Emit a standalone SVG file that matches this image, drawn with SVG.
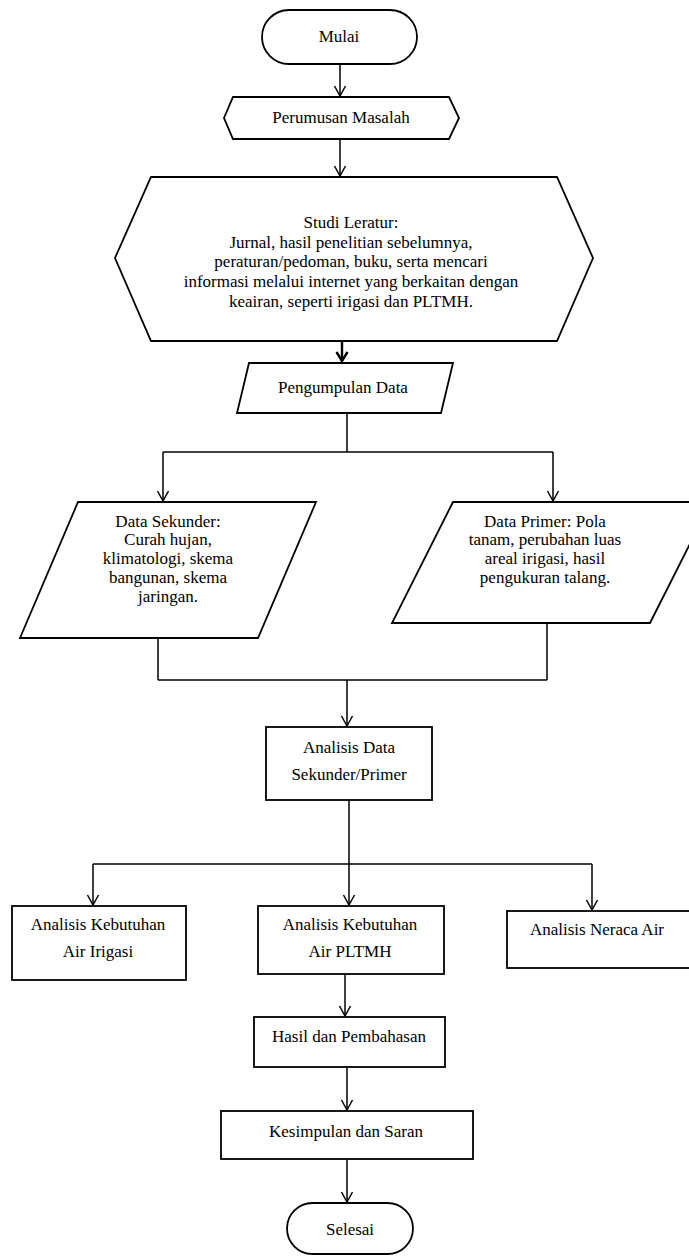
<svg xmlns="http://www.w3.org/2000/svg" width="689" height="1256" viewBox="0 0 689 1256">
<style>
.s{fill:#fff;stroke:#000;stroke-width:1.8}
.c{fill:none;stroke:#000;stroke-width:1.5}
.a{marker-end:url(#ah)}
.b{stroke-width:2.4;marker-end:url(#ahb)}
text{font-family:"Liberation Serif","Times New Roman",serif;font-size:17px;fill:#000;text-anchor:middle}
</style>
<defs>
<marker id="ah" markerUnits="userSpaceOnUse" markerWidth="14" markerHeight="14" viewBox="-12 -7 14 14" refX="0" refY="0" orient="auto">
<path d="M-10,-5.5 L0,0 L-10,5.5" fill="none" stroke="#000" stroke-width="1.5"/>
</marker>
<marker id="ahb" markerUnits="userSpaceOnUse" markerWidth="14" markerHeight="14" viewBox="-12 -7 14 14" refX="0" refY="0" orient="auto">
<path d="M-9,-5.5 L0,0 L-9,5.5" fill="none" stroke="#000" stroke-width="2.4"/>
</marker>
</defs>
<rect width="689" height="1256" fill="#fff"/>
<g id="connectors">
<line class="c a" x1="340" y1="64" x2="340" y2="96"/>
<line class="c a" x1="340" y1="139" x2="340" y2="176"/>
<line class="c b" x1="342" y1="341" x2="342" y2="361"/>
<polyline class="c" points="347,413 347,452"/>
<line class="c" x1="163" y1="452" x2="553" y2="452"/>
<line class="c a" x1="163" y1="452" x2="163" y2="501"/>
<line class="c a" x1="553" y1="452" x2="553" y2="501"/>
<line class="c" x1="158" y1="638" x2="158" y2="680"/>
<line class="c" x1="547" y1="623" x2="547" y2="680"/>
<line class="c" x1="158" y1="680" x2="547" y2="680"/>
<line class="c a" x1="347" y1="680" x2="347" y2="726"/>
<line class="c a" x1="349" y1="800" x2="349" y2="905"/>
<line class="c" x1="93" y1="864" x2="592" y2="864"/>
<line class="c a" x1="93" y1="864" x2="93" y2="905"/>
<line class="c a" x1="592" y1="864" x2="592" y2="910"/>
<line class="c a" x1="345" y1="974" x2="345" y2="1016"/>
<line class="c a" x1="347" y1="1067" x2="347" y2="1110"/>
<line class="c a" x1="347" y1="1159" x2="347" y2="1202"/>
</g>
<g id="mulai">
<rect class="s" x="262" y="10" width="155" height="54" rx="27"/>
<text x="339" y="42">Mulai</text>
</g>
<g id="perumusan">
<polygon class="s" points="233,97 449,97 459,118 449,139 233,139 224,118"/>
<text x="341" y="123">Perumusan Masalah</text>
</g>
<g id="studi">
<polygon class="s" points="151,177 557,177 593,258 557,341 151,341 115,258"/>
<text x="351" y="228">Studi Leratur:</text>
<text x="351" y="248">Jurnal, hasil penelitian sebelumnya,</text>
<text x="351" y="267">peraturan/pedoman, buku, serta mencari</text>
<text x="351" y="287">informasi melalui internet yang berkaitan dengan</text>
<text x="351" y="307">keairan, seperti irigasi dan PLTMH.</text>
</g>
<g id="pengumpulan">
<polygon class="s" points="249,363 453,363 441,413 237,413"/>
<text x="343" y="393">Pengumpulan Data</text>
</g>
<g id="sekunder">
<polygon class="s" points="78,502 316,502 258,638 20,638"/>
<text x="168" y="527">Data Sekunder:</text>
<text x="168" y="545">Curah hujan,</text>
<text x="168" y="564">klimatologi,  skema</text>
<text x="168" y="583">bangunan, skema</text>
<text x="168" y="602">jaringan.</text>
</g>
<g id="primer">
<polygon class="s" points="453,502 711,502 650,623 392,623"/>
<text x="545" y="527">Data Primer: Pola</text>
<text x="545" y="545">tanam, perubahan luas</text>
<text x="545" y="564">areal irigasi, hasil</text>
<text x="545" y="583">pengukuran talang.</text>
</g>
<g id="analisis-data">
<rect class="s" x="266" y="727" width="166" height="73"/>
<text x="349" y="753">Analisis Data</text>
<text x="349" y="780">Sekunder/Primer</text>
</g>
<g id="irigasi">
<rect class="s" x="12" y="906" width="174" height="74"/>
<text x="98" y="930">Analisis Kebutuhan</text>
<text x="98" y="957">Air Irigasi</text>
</g>
<g id="pltmh">
<rect class="s" x="258" y="906" width="186" height="68"/>
<text x="350" y="930">Analisis Kebutuhan</text>
<text x="350" y="957">Air PLTMH</text>
</g>
<g id="neraca">
<rect class="s" x="507" y="911" width="190" height="57"/>
<text x="597" y="935">Analisis Neraca Air</text>
</g>
<g id="hasil">
<rect class="s" x="254" y="1017" width="191" height="50"/>
<text x="349" y="1042">Hasil dan Pembahasan</text>
</g>
<g id="kesimpulan">
<rect class="s" x="221" y="1111" width="252" height="48"/>
<text x="346" y="1137">Kesimpulan dan Saran</text>
</g>
<g id="selesai">
<rect class="s" x="287" y="1203" width="126" height="51" rx="25.5"/>
<text x="350" y="1235">Selesai</text>
</g>
</svg>
